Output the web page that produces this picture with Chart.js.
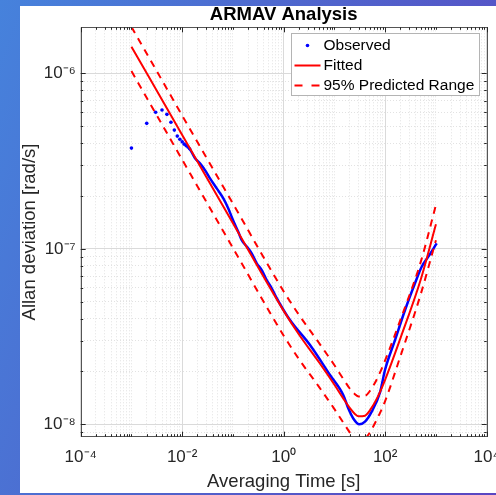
<!DOCTYPE html>
<html><head><meta charset="utf-8">
<script src="https://cdn.jsdelivr.net/npm/chart.js@4.4.1/dist/chart.umd.min.js"></script>
<style>
html,body{margin:0;padding:0;width:496px;height:495px;overflow:hidden;}
body{background:linear-gradient(110deg,#4682dc 0%,#4f66cd 45%,#5a46c2 100%);position:relative;}
#panel{position:absolute;left:20px;top:6px;width:476px;height:487px;background:#fff;}
#wrap{position:absolute;left:0;top:0;width:496px;height:495px;}
</style></head><body>
<div id="panel"></div>
<div id="wrap"><canvas id="c" width="496" height="495"></canvas></div>
<script>
// ---- data ----
const TITLE = 'ARMAV Analysis';
const X_TITLE = 'Averaging Time [s]';
const Y_TITLE = 'Allan deviation [rad/s]';
const X_TICKS = [1e-4, 1e-2, 1, 1e2, 1e4];
const X_TICK_LABELS = ['10\u207B\u2074', '10\u207B\u00B2', '10\u2070', '10\u00B2', '10\u2074'];
const Y_TICKS = [1e-8, 1e-7, 1e-6];
const Y_TICK_LABELS = ['10\u207B\u2078', '10\u207B\u2077', '10\u207B\u2076'];
const X_RANGE = [1e-4, 1e4];
const Y_RANGE = [8.5e-9, 1.83e-6];
const LEGEND_LABELS = ['Observed', 'Fitted', '95% Predicted Range'];

const OBS_TAU = [0.001,0.002,0.003,0.004,0.005,0.006,0.007,0.008,0.009,0.010,0.011,0.012,0.013,0.014,
  0.0179,0.0224,0.0281,0.0353,0.0479,0.0646,0.081,0.0945,0.110,0.127,0.149,0.187,0.234,0.294,0.369,0.462,0.580,0.705,
  1.33,3.30,8.17,14.9,18.8,23.5,30.9,40.0,54.2,79.0,99.1,156,246,386,524,707,1035];
const OBS_SIG = [3.75e-7,5.19e-7,6.0e-7,6.18e-7,5.84e-7,5.26e-7,4.75e-7,4.39e-7,4.21e-7,4.07e-7,3.95e-7,3.87e-7,3.80e-7,3.72e-7,
  3.28e-7,3.07e-7,2.81e-7,2.52e-7,2.21e-7,1.94e-7,1.70e-7,1.52e-7,1.37e-7,1.25e-7,1.12e-7,1.03e-7,9.43e-8,8.27e-8,7.57e-8,6.64e-8,5.96e-8,5.33e-8,
  3.93e-8,2.83e-8,1.91e-8,1.47e-8,1.23e-8,1.08e-8,1.00e-8,1.035e-8,1.18e-8,1.52e-8,2.04e-8,3.02e-8,4.48e-8,6.36e-8,7.91e-8,9.02e-8,1.075e-7];

const FIT_TAU = [0.001,0.01,0.1,1,2,5,10,15,20,25,30,40,50,70,100,200,500,1000];
const FIT_SIG = [1.42e-6,4.45e-7,1.40e-7,4.43e-8,3.25e-8,2.25e-8,1.68e-8,1.40e-8,1.24e-8,1.15e-8,1.11e-8,1.12e-8,1.20e-8,1.42e-8,1.80e-8,3.10e-8,6.67e-8,1.38e-7];
const UPPER_SIG = [1.84e-6,5.75e-7,1.81e-7,5.72e-8,4.2e-8,2.9e-8,2.17e-8,1.81e-8,1.60e-8,1.49e-8,1.44e-8,1.45e-8,1.55e-8,1.83e-8,2.32e-8,3.95e-8,8.4e-8,1.78e-7];
const LOWER_SIG = [1.03e-6,3.22e-7,1.01e-7,3.2e-8,2.35e-8,1.63e-8,1.22e-8,1.02e-8,9.0e-9,8.3e-9,8.1e-9,8.3e-9,9.0e-9,1.08e-8,1.36e-8,2.45e-8,5.5e-8,1.12e-7];

// ---- styles ----
const BLUE = '#0000ff', RED = '#ff0000', TXT = '#262626';
const FONT = "'Liberation Sans', Arial, sans-serif";
const DOT_LIMIT = 0.0139;
const LINE_DASH = [7, 6];
const LEGEND_DASH = [8, 9];

const pts = (xs, ys) => xs.map((x, i) => ({x, y: ys[i]}));
const isMajor = (v, majors) => majors.some(m => Math.abs(Math.log10(v / m)) < 1e-6);
function logTicks(min, max) {
  const out = [];
  for (let e = Math.floor(Math.log10(min)); e <= Math.ceil(Math.log10(max)); e++) {
    for (let m = 1; m <= 9; m++) {
      const v = m * Math.pow(10, e);
      if (v >= min * 0.9999 && v <= max * 1.0001) out.push({value: v});
    }
  }
  return out;
}
function labelFor(v, majors, labels) {
  const i = majors.findIndex(m => Math.abs(Math.log10(v / m)) < 1e-6);
  return i >= 0 ? labels[i] : '';
}

const framePlugin = {
  id: 'frame',
  afterDraw(chart) {
    const {ctx, chartArea: a, scales} = chart;
    ctx.save();
    ctx.fillStyle = '#000';
    ctx.font = 'bold 18.5px ' + FONT;
    ctx.textAlign = 'center';
    ctx.textBaseline = 'middle';
    ctx.fillText(TITLE, (a.left + a.right) / 2, 14.5);
    ctx.strokeStyle = '#555';
    ctx.lineWidth = 1;
    ctx.strokeRect(Math.round(a.left) + 0.5, Math.round(a.top) + 0.5, Math.round(a.right - a.left), Math.round(a.bottom - a.top));
    ctx.strokeStyle = TXT;
    ctx.beginPath();
    scales.x.ticks.forEach(t => {
      const p = Math.round(scales.x.getPixelForValue(t.value)) + 0.5;
      const L = isMajor(t.value, X_TICKS) ? 5 : 2.5;
      ctx.moveTo(p, a.bottom); ctx.lineTo(p, a.bottom - L);
      ctx.moveTo(p, a.top); ctx.lineTo(p, a.top + L);
    });
    scales.y.ticks.forEach(t => {
      const p = Math.round(scales.y.getPixelForValue(t.value)) + 0.5;
      const L = isMajor(t.value, Y_TICKS) ? 5 : 2.5;
      ctx.moveTo(a.left, p); ctx.lineTo(a.left + L, p);
      ctx.moveTo(a.right, p); ctx.lineTo(a.right - L, p);
    });
    ctx.stroke();
    ctx.font = '15.5px ' + FONT;
    const tw = Math.max(...LEGEND_LABELS.map(s => ctx.measureText(s).width));
    const w = Math.round(32 + tw + 5), h = 62;
    const x0 = Math.round(a.right - 8 - w) + 0.5, y0 = Math.round(a.top + 6) + 0.5;
    ctx.fillStyle = '#fff';
    ctx.fillRect(x0, y0, w, h);
    ctx.strokeStyle = '#b4b4b4';
    ctx.strokeRect(x0, y0, w, h);
    const items = chart.data.datasets.filter(d => d.legendKey);
    items.forEach((d, i) => {
      const cy = y0 + 12 + i * 20;
      if (d.legendKey === 'dot') {
        ctx.fillStyle = d.pointBackgroundColor;
        ctx.beginPath(); ctx.arc(x0 + 16, cy, 1.8, 0, Math.PI * 2); ctx.fill();
      } else {
        ctx.strokeStyle = d.borderColor;
        ctx.lineWidth = 2;
        ctx.setLineDash(d.borderDash ? LEGEND_DASH : []);
        ctx.beginPath(); ctx.moveTo(x0 + 3, cy); ctx.lineTo(x0 + 29, cy); ctx.stroke();
        ctx.setLineDash([]);
      }
      ctx.fillStyle = '#000';
      ctx.textAlign = 'left';
      ctx.textBaseline = 'middle';
      ctx.fillText(d.label, x0 + 32, cy + 0.5);
    });
    ctx.restore();
  }
};

const gridColor = majors => c => (c.tick && isMajor(c.tick.value, majors)) ? '#dadada' : '#e2e2e2';
const gridDash = majors => c => (c.tick && isMajor(c.tick.value, majors)) ? [] : [1, 2];

new Chart(document.getElementById('c'), {
  type: 'line',
  data: {
    datasets: [
      {
        label: LEGEND_LABELS[0], legendKey: 'dot',
        data: pts(OBS_TAU, OBS_SIG),
        borderColor: BLUE, backgroundColor: BLUE, pointBackgroundColor: BLUE,
        borderWidth: 2.5, pointBorderWidth: 0,
        pointRadius: c => (c.raw && c.raw.x < 0.0145) ? 1.8 : 0,
        cubicInterpolationMode: 'monotone',
        segment: { borderColor: c => c.p0.parsed.x < DOT_LIMIT ? 'rgba(0,0,0,0)' : BLUE },
        order: 4
      },
      {
        label: LEGEND_LABELS[1], legendKey: 'line',
        data: pts(FIT_TAU, FIT_SIG),
        borderColor: RED, borderWidth: 2, pointRadius: 0,
        cubicInterpolationMode: 'monotone', order: 2
      },
      {
        label: LEGEND_LABELS[2], legendKey: 'dash',
        data: pts(FIT_TAU, UPPER_SIG),
        borderColor: RED, borderWidth: 2, borderDash: LINE_DASH, pointRadius: 0,
        cubicInterpolationMode: 'monotone', order: 1
      },
      {
        label: LEGEND_LABELS[2] + ' (lower)',
        data: pts(FIT_TAU, LOWER_SIG),
        borderColor: RED, borderWidth: 2, borderDash: LINE_DASH, pointRadius: 0,
        cubicInterpolationMode: 'monotone', order: 1
      }
    ]
  },
  options: {
    responsive: false, animation: false, devicePixelRatio: 1,
    layout: { padding: { left: 20, right: 9.3, top: 27.3, bottom: 0 } },
    plugins: { legend: { display: false }, tooltip: { enabled: false }, title: { display: false } },
    scales: {
      x: {
        type: 'logarithmic', position: 'bottom',
        min: X_RANGE[0], max: X_RANGE[1],
        afterBuildTicks: s => { s.ticks = logTicks(X_RANGE[0], X_RANGE[1]); },
        afterFit: s => { s.height = 58.3; s.paddingLeft = 0; s.paddingRight = 0; },
        ticks: {
          autoSkip: false, maxRotation: 0, minRotation: 0, padding: 10,
          color: TXT, font: { family: FONT, size: 17 },
          callback: v => labelFor(v, X_TICKS, X_TICK_LABELS)
        },
        grid: { color: gridColor(X_TICKS), lineWidth: 1, drawTicks: false },
        border: { display: false, dash: gridDash(X_TICKS) },
        title: { display: true, text: X_TITLE, color: TXT, font: { family: FONT, size: 18.5, lineHeight: 1 }, padding: { top: 0, bottom: 4 } }
      },
      y: {
        type: 'logarithmic', position: 'left',
        min: Y_RANGE[0], max: Y_RANGE[1],
        afterBuildTicks: s => { s.ticks = logTicks(Y_RANGE[0], Y_RANGE[1]); },
        afterFit: s => { s.width = 60.7; s.paddingTop = 0; s.paddingBottom = 0; },
        ticks: {
          autoSkip: false, padding: 5,
          color: TXT, font: { family: FONT, size: 17 },
          callback: v => labelFor(v, Y_TICKS, Y_TICK_LABELS)
        },
        grid: { color: gridColor(Y_TICKS), lineWidth: 1, drawTicks: false },
        border: { display: false, dash: gridDash(Y_TICKS) },
        title: { display: true, text: Y_TITLE, color: TXT, font: { family: FONT, size: 18.5, lineHeight: 1 }, padding: { top: 1, bottom: 0 } }
      }
    }
  },
  plugins: [framePlugin]
});
</script></body></html>
